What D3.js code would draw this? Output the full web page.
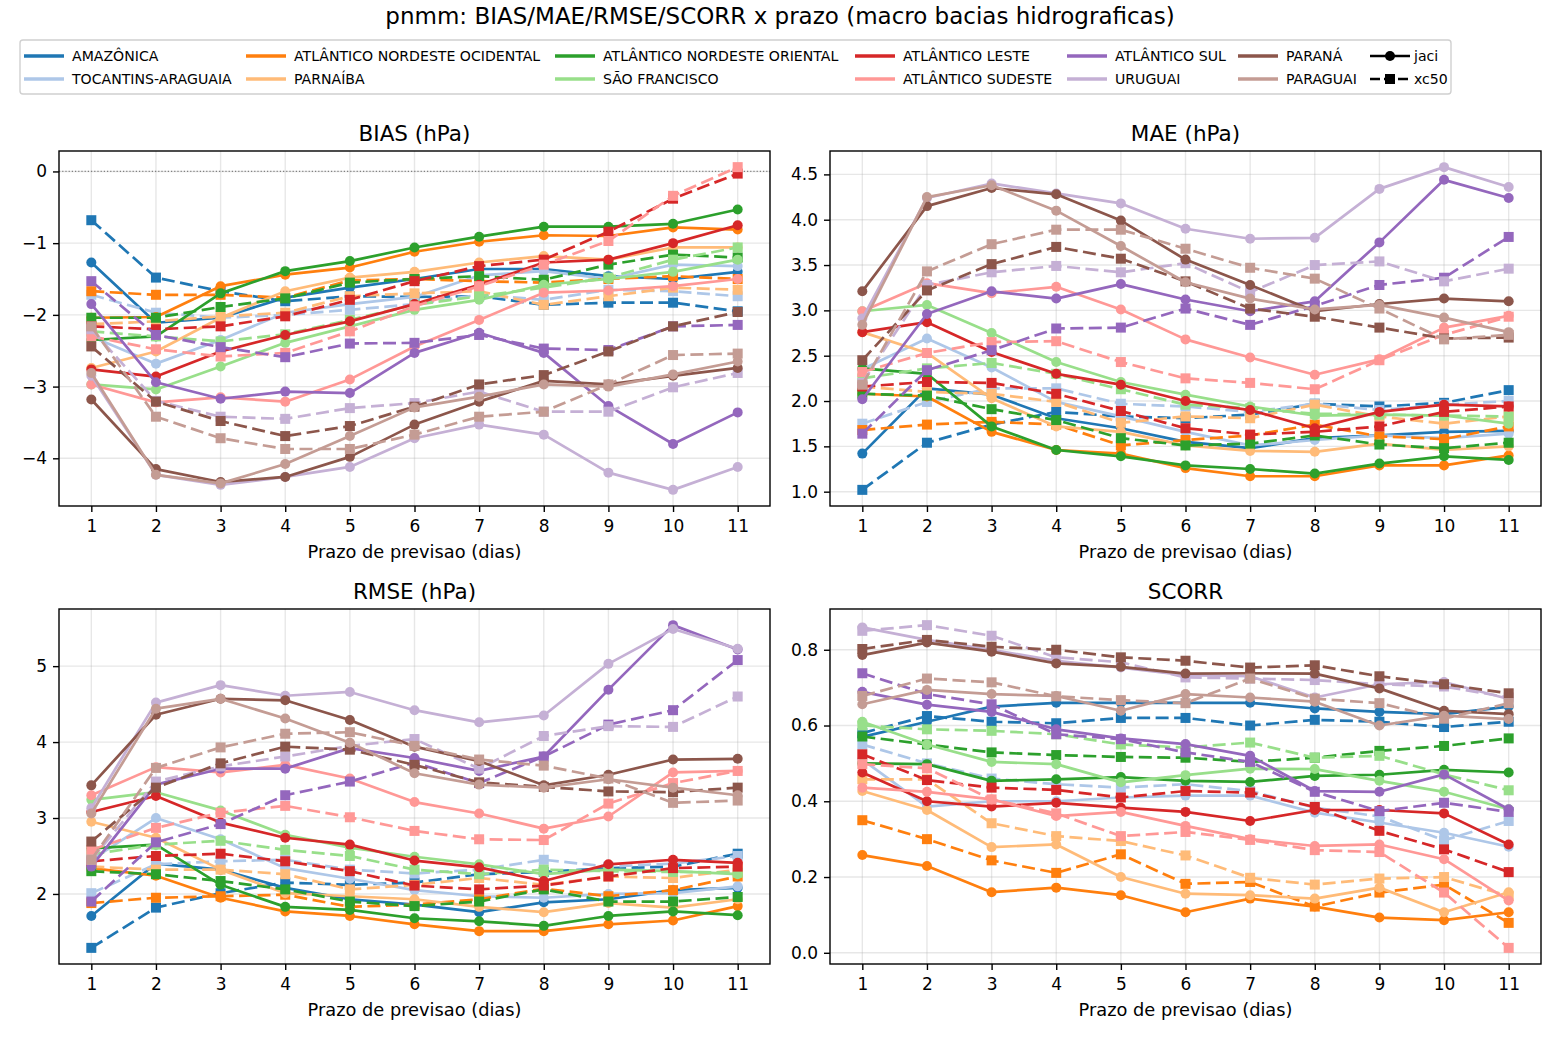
<!DOCTYPE html>
<html>
<head>
<meta charset="utf-8">
<script src="https://cdn.jsdelivr.net/npm/d3@7/dist/d3.min.js"></script>
<style>
  body { margin: 0; background: #fff; }
  svg { font-family: "DejaVu Sans", sans-serif; }
</style>
</head>
<body>
<svg id="chart" width="1560" height="1040"></svg>
<script>
// Basins, in legend (and plotting) order, with the tab20 colours
var basins = ['AMAZÔNICA', 'TOCANTINS-ARAGUAIA', 'ATLÂNTICO NORDESTE OCIDENTAL', 'PARNAÍBA',
    'ATLÂNTICO NORDESTE ORIENTAL', 'SÃO FRANCISCO', 'ATLÂNTICO LESTE', 'ATLÂNTICO SUDESTE',
    'ATLÂNTICO SUL', 'URUGUAI', 'PARANÁ', 'PARAGUAI'];
var colors = ['#1f77b4', '#aec7e8', '#ff7f0e', '#ffbb78', '#2ca02c', '#98df8a',
    '#d62728', '#ff9896', '#9467bd', '#c5b0d5', '#8c564b', '#c49c94'];
var days = [1, 2, 3, 4, 5, 6, 7, 8, 9, 10, 11];

// BIAS (hPa)
var biasJaci = [
    [-1.27, -2.11, -2.04, -1.76, -1.62, -1.5, -1.36, -1.36, -1.46, -1.5, -1.4],
    [-2.3, -2.68, -2.35, -1.97, -1.85, -1.75, -1.45, -1.39, -1.5, -1.3, -1.32],
    [-2.04, -2.03, -1.6, -1.44, -1.34, -1.12, -0.98, -0.89, -0.9, -0.78, -0.81],
    [-2.74, -2.51, -2.04, -1.67, -1.48, -1.4, -1.27, -1.18, -1.23, -1.06, -1.06],
    [-2.35, -2.3, -1.7, -1.39, -1.25, -1.06, -0.91, -0.77, -0.77, -0.73, -0.53],
    [-2.97, -3.04, -2.72, -2.39, -2.16, -1.93, -1.79, -1.58, -1.5, -1.4, -1.23],
    [-2.76, -2.86, -2.51, -2.28, -2.09, -1.85, -1.58, -1.27, -1.23, -1.0, -0.75],
    [-2.97, -3.22, -3.15, -3.21, -2.9, -2.44, -2.07, -1.69, -1.66, -1.6, -1.5],
    [-1.85, -2.94, -3.17, -3.07, -3.09, -2.53, -2.25, -2.53, -3.27, -3.8, -3.36],
    [-2.85, -4.23, -4.37, -4.26, -4.12, -3.72, -3.53, -3.67, -4.2, -4.44, -4.12],
    [-3.18, -4.15, -4.33, -4.26, -3.98, -3.53, -3.21, -2.92, -2.97, -2.85, -2.74],
    [-2.81, -4.23, -4.35, -4.08, -3.69, -3.29, -3.14, -2.97, -3.0, -2.83, -2.65]
];
var biasXc50 = [
    [-0.68, -1.48, -1.67, -1.81, -1.74, -1.75, -1.74, -1.86, -1.83, -1.83, -1.95],
    [-1.72, -1.97, -2.04, -2.0, -1.93, -1.85, -1.72, -1.79, -1.65, -1.67, -1.74],
    [-1.67, -1.72, -1.72, -1.76, -1.52, -1.5, -1.53, -1.55, -1.5, -1.46, -1.5],
    [-2.13, -2.09, -2.02, -1.97, -1.74, -1.7, -1.67, -1.86, -1.74, -1.62, -1.65],
    [-2.04, -2.04, -1.89, -1.77, -1.55, -1.5, -1.46, -1.51, -1.3, -1.16, -1.2],
    [-2.23, -2.3, -2.37, -2.27, -2.07, -1.86, -1.74, -1.62, -1.48, -1.23, -1.06],
    [-2.16, -2.2, -2.16, -2.02, -1.79, -1.53, -1.32, -1.23, -0.84, -0.38, -0.03],
    [-2.3, -2.48, -2.58, -2.53, -2.23, -1.88, -1.6, -1.3, -0.97, -0.34, 0.06],
    [-1.53, -2.28, -2.45, -2.59, -2.4, -2.39, -2.28, -2.47, -2.49, -2.16, -2.14],
    [-2.2, -3.2, -3.42, -3.45, -3.3, -3.23, -3.07, -3.35, -3.35, -3.01, -2.81],
    [-2.44, -3.21, -3.48, -3.69, -3.55, -3.28, -2.97, -2.84, -2.51, -2.16, -1.96],
    [-2.16, -3.42, -3.72, -3.87, -3.87, -3.67, -3.42, -3.35, -2.97, -2.56, -2.54]
];

// MAE (hPa)
var maeJaci = [
    [1.42, 2.14, 2.07, 1.81, 1.7, 1.55, 1.48, 1.59, 1.62, 1.66, 1.67],
    [2.35, 2.69, 2.37, 1.99, 1.83, 1.66, 1.51, 1.57, 1.62, 1.59, 1.64],
    [2.08, 2.05, 1.66, 1.46, 1.42, 1.26, 1.17, 1.17, 1.29, 1.29, 1.4],
    [2.76, 2.53, 2.03, 1.72, 1.66, 1.51, 1.45, 1.44, 1.53, 1.46, 1.5],
    [2.36, 2.3, 1.72, 1.46, 1.39, 1.29, 1.25, 1.2, 1.31, 1.39, 1.35],
    [2.99, 3.06, 2.75, 2.43, 2.21, 2.07, 1.94, 1.84, 1.85, 1.84, 1.75],
    [2.76, 2.87, 2.54, 2.3, 2.18, 2.0, 1.9, 1.7, 1.88, 1.96, 1.94],
    [2.99, 3.3, 3.19, 3.26, 3.01, 2.68, 2.48, 2.29, 2.46, 2.81, 2.94],
    [2.02, 2.96, 3.21, 3.13, 3.29, 3.12, 2.99, 3.1, 3.75, 4.44, 4.24],
    [2.91, 4.24, 4.4, 4.29, 4.18, 3.9, 3.79, 3.8, 4.34, 4.58, 4.36],
    [3.21, 4.15, 4.35, 4.28, 3.99, 3.56, 3.28, 2.99, 3.07, 3.13, 3.1],
    [2.84, 4.25, 4.38, 4.1, 3.71, 3.31, 3.13, 3.01, 3.06, 2.92, 2.76]
];
var maeXc50 = [
    [1.02, 1.54, 1.74, 1.88, 1.83, 1.81, 1.85, 1.97, 1.94, 1.98, 2.12],
    [1.75, 1.99, 2.14, 2.14, 1.97, 1.94, 1.88, 1.97, 1.9, 1.96, 2.0],
    [1.68, 1.74, 1.77, 1.74, 1.51, 1.57, 1.62, 1.74, 1.61, 1.58, 1.72],
    [2.16, 2.1, 2.08, 1.99, 1.76, 1.83, 1.81, 1.96, 1.83, 1.75, 1.83],
    [2.08, 2.06, 1.91, 1.79, 1.59, 1.51, 1.53, 1.62, 1.52, 1.48, 1.54],
    [2.25, 2.36, 2.42, 2.3, 2.13, 1.96, 1.92, 1.86, 1.85, 1.84, 1.83],
    [2.16, 2.21, 2.2, 2.08, 1.89, 1.7, 1.63, 1.66, 1.72, 1.88, 1.94],
    [2.32, 2.53, 2.65, 2.66, 2.43, 2.25, 2.2, 2.13, 2.45, 2.73, 2.93],
    [1.64, 2.34, 2.56, 2.8, 2.81, 3.02, 2.84, 3.05, 3.28, 3.36, 3.81],
    [2.2, 3.28, 3.42, 3.49, 3.42, 3.52, 3.2, 3.5, 3.54, 3.32, 3.46],
    [2.45, 3.22, 3.51, 3.7, 3.57, 3.32, 3.02, 2.93, 2.81, 2.69, 2.7],
    [2.18, 3.43, 3.73, 3.89, 3.89, 3.68, 3.47, 3.35, 3.02, 2.68, 2.73]
];

// RMSE (hPa)
var rmseJaci = [
    [1.71, 2.4, 2.32, 2.08, 1.93, 1.86, 1.76, 1.89, 1.93, 2.05, 2.08],
    [2.45, 3.0, 2.72, 2.34, 2.2, 2.05, 1.97, 1.95, 2.0, 2.01, 2.1],
    [2.34, 2.24, 1.95, 1.77, 1.71, 1.6, 1.51, 1.51, 1.6, 1.65, 1.84],
    [2.95, 2.74, 2.32, 2.01, 1.97, 1.93, 1.83, 1.76, 1.88, 1.82, 1.93],
    [2.6, 2.65, 2.12, 1.83, 1.79, 1.68, 1.64, 1.58, 1.71, 1.77, 1.72],
    [3.24, 3.34, 3.1, 2.78, 2.61, 2.49, 2.39, 2.26, 2.32, 2.3, 2.26],
    [3.08, 3.29, 2.94, 2.74, 2.65, 2.44, 2.35, 2.17, 2.39, 2.45, 2.41],
    [3.3, 3.67, 3.6, 3.7, 3.52, 3.21, 3.06, 2.86, 3.02, 3.6, 3.62],
    [2.36, 3.44, 3.65, 3.65, 3.92, 3.79, 3.62, 3.81, 4.69, 5.54, 5.22],
    [3.13, 4.52, 4.75, 4.61, 4.66, 4.42, 4.26, 4.35, 5.03, 5.49, 5.23],
    [3.43, 4.36, 4.57, 4.55, 4.29, 3.94, 3.75, 3.43, 3.57, 3.77, 3.78],
    [3.06, 4.44, 4.57, 4.31, 3.99, 3.59, 3.44, 3.4, 3.51, 3.4, 3.3]
];
var rmseXc50 = [
    [1.29, 1.82, 2.01, 2.15, 2.12, 2.15, 2.26, 2.29, 2.34, 2.36, 2.53],
    [2.01, 2.39, 2.43, 2.45, 2.32, 2.27, 2.32, 2.45, 2.36, 2.4, 2.5],
    [1.88, 1.95, 1.97, 1.99, 1.83, 1.86, 1.93, 2.07, 1.97, 2.05, 2.23],
    [2.36, 2.32, 2.32, 2.26, 2.06, 2.12, 2.21, 2.12, 2.23, 2.21, 2.32],
    [2.3, 2.26, 2.17, 2.06, 1.9, 1.84, 1.9, 2.06, 1.9, 1.9, 1.96],
    [2.52, 2.65, 2.7, 2.58, 2.5, 2.32, 2.26, 2.32, 2.3, 2.29, 2.28],
    [2.43, 2.5, 2.53, 2.43, 2.3, 2.11, 2.06, 2.11, 2.23, 2.34, 2.36],
    [2.58, 2.87, 3.07, 3.16, 3.01, 2.83, 2.72, 2.71, 3.19, 3.46, 3.62],
    [1.9, 2.68, 2.92, 3.3, 3.48, 3.73, 3.46, 3.81, 4.23, 4.42, 5.08],
    [2.45, 3.48, 3.68, 3.81, 3.95, 4.04, 3.65, 4.08, 4.21, 4.2, 4.6],
    [2.69, 3.4, 3.72, 3.94, 3.9, 3.7, 3.47, 3.41, 3.35, 3.34, 3.4],
    [2.45, 3.66, 3.93, 4.11, 4.13, 3.95, 3.77, 3.69, 3.52, 3.2, 3.23]
];

// SCORR
var scorrJaci = [
    [0.57, 0.61, 0.65, 0.66, 0.66, 0.66, 0.66, 0.645, 0.636, 0.63, 0.65],
    [0.51, 0.386, 0.4, 0.4, 0.41, 0.415, 0.415, 0.37, 0.344, 0.317, 0.28],
    [0.258, 0.229, 0.16, 0.172, 0.152, 0.107, 0.143, 0.122, 0.093, 0.086, 0.107],
    [0.427, 0.377, 0.279, 0.286, 0.2, 0.156, 0.152, 0.143, 0.172, 0.107, 0.16],
    [0.5, 0.498, 0.454, 0.458, 0.464, 0.454, 0.451, 0.467, 0.47, 0.483, 0.476],
    [0.61, 0.55, 0.504, 0.498, 0.45, 0.469, 0.486, 0.485, 0.454, 0.425, 0.379],
    [0.476, 0.4, 0.386, 0.396, 0.383, 0.372, 0.348, 0.377, 0.377, 0.368, 0.286],
    [0.436, 0.425, 0.405, 0.361, 0.372, 0.335, 0.3, 0.282, 0.286, 0.247, 0.138],
    [0.689, 0.655, 0.636, 0.59, 0.566, 0.551, 0.52, 0.427, 0.425, 0.471, 0.379],
    [0.859, 0.826, 0.8, 0.771, 0.753, 0.733, 0.73, 0.674, 0.709, 0.715, 0.67],
    [0.786, 0.819, 0.795, 0.764, 0.755, 0.737, 0.738, 0.737, 0.698, 0.639, 0.63],
    [0.656, 0.694, 0.683, 0.678, 0.639, 0.683, 0.674, 0.663, 0.6, 0.626, 0.617]
];
var scorrXc50 = [
    [0.58, 0.625, 0.61, 0.606, 0.62, 0.62, 0.6, 0.615, 0.61, 0.596, 0.61],
    [0.55, 0.5, 0.46, 0.445, 0.436, 0.445, 0.427, 0.383, 0.36, 0.297, 0.348],
    [0.35, 0.3, 0.244, 0.211, 0.26, 0.182, 0.187, 0.122, 0.159, 0.18, 0.079],
    [0.458, 0.458, 0.342, 0.308, 0.295, 0.257, 0.198, 0.18, 0.196, 0.2, 0.15],
    [0.571, 0.55, 0.529, 0.522, 0.517, 0.515, 0.504, 0.515, 0.533, 0.546, 0.566],
    [0.6, 0.59, 0.586, 0.577, 0.55, 0.542, 0.555, 0.515, 0.52, 0.471, 0.429],
    [0.524, 0.456, 0.436, 0.43, 0.41, 0.427, 0.423, 0.385, 0.322, 0.273, 0.213],
    [0.498, 0.487, 0.405, 0.368, 0.308, 0.319, 0.298, 0.271, 0.266, 0.159, 0.013],
    [0.738, 0.683, 0.656, 0.577, 0.564, 0.529, 0.504, 0.425, 0.374, 0.396, 0.372],
    [0.85, 0.865, 0.837, 0.78, 0.767, 0.727, 0.724, 0.72, 0.709, 0.703, 0.674],
    [0.802, 0.826, 0.808, 0.8, 0.78, 0.771, 0.753, 0.759, 0.73, 0.709, 0.685],
    [0.678, 0.724, 0.714, 0.677, 0.667, 0.659, 0.724, 0.671, 0.659, 0.618, 0.659]
];

var svg = d3.select('#chart');
var plotW = 711, plotH = 355;
var lw = 2.7, mr = 5;

// matplotlib-like minus sign
function minusFmt(f) {
    return function(d) { return f(d).replace('-', '\u2212'); };
}

var panels = [
    { title: 'BIAS (hPa)', jaci: biasJaci, xc50: biasXc50, x: 59, y: 151,
      ticks: [-4, -3, -2, -1, 0], fmt: minusFmt(d3.format('d')), zero: true },
    { title: 'MAE (hPa)', jaci: maeJaci, xc50: maeXc50, x: 830, y: 151,
      ticks: [1.0, 1.5, 2.0, 2.5, 3.0, 3.5, 4.0, 4.5], fmt: d3.format('.1f') },
    { title: 'RMSE (hPa)', jaci: rmseJaci, xc50: rmseXc50, x: 59, y: 609,
      ticks: [2, 3, 4, 5], fmt: d3.format('d') },
    { title: 'SCORR', jaci: scorrJaci, xc50: scorrXc50, x: 830, y: 609,
      ticks: [0, 0.2, 0.4, 0.6, 0.8], fmt: d3.format('.1f') }
];

svg.append('text')
    .attr('x', 780).attr('y', 16)
    .attr('text-anchor', 'middle').attr('dominant-baseline', 'central')
    .style('font-size', '23px')
    .text('pnmm: BIAS/MAE/RMSE/SCORR x prazo (macro bacias hidrograficas)');

panels.forEach(function(p) {
    var g = svg.append('g').attr('transform', 'translate(' + p.x + ',' + p.y + ')');

    var all = d3.merge(p.jaci.concat(p.xc50));
    var lo = d3.min(all), hi = d3.max(all), pad = (hi - lo) * 0.05;

    var x = d3.scaleLinear().domain([0.5, 11.5]).range([0, plotW]);
    var y = d3.scaleLinear().domain([lo - pad, hi + pad]).range([plotH, 0]);

    // grid
    g.append('g').selectAll('line').data(days).enter().append('line')
        .attr('x1', function(d) { return x(d); }).attr('x2', function(d) { return x(d); })
        .attr('y1', 0).attr('y2', plotH)
        .attr('stroke', '#b0b0b0').attr('stroke-opacity', 0.3).attr('stroke-width', 1.4);
    g.append('g').selectAll('line').data(p.ticks).enter().append('line')
        .attr('y1', function(d) { return y(d); }).attr('y2', function(d) { return y(d); })
        .attr('x1', 0).attr('x2', plotW)
        .attr('stroke', '#b0b0b0').attr('stroke-opacity', 0.3).attr('stroke-width', 1.4);

    if (p.zero) {
        g.append('line')
            .attr('x1', 0).attr('x2', plotW).attr('y1', y(0)).attr('y2', y(0))
            .attr('stroke', '#808080').attr('stroke-width', 1.2)
            .attr('stroke-dasharray', '1.2,2');
    }

    var line = d3.line()
        .x(function(d, i) { return x(days[i]); })
        .y(function(d) { return y(d); });

    basins.forEach(function(b, bi) {
        var c = colors[bi];
        g.append('path').datum(p.jaci[bi])
            .attr('d', line).attr('fill', 'none')
            .attr('stroke', c).attr('stroke-width', lw).attr('stroke-linejoin', 'round');
        g.append('g').selectAll('circle').data(p.jaci[bi]).enter().append('circle')
            .attr('cx', function(d, i) { return x(days[i]); })
            .attr('cy', function(d) { return y(d); })
            .attr('r', mr).attr('fill', c);

        g.append('path').datum(p.xc50[bi])
            .attr('d', line).attr('fill', 'none')
            .attr('stroke', c).attr('stroke-width', lw)
            .attr('stroke-dasharray', '13,5.5');
        g.append('g').selectAll('rect').data(p.xc50[bi]).enter().append('rect')
            .attr('x', function(d, i) { return x(days[i]) - mr; })
            .attr('y', function(d) { return y(d) - mr; })
            .attr('width', 2 * mr).attr('height', 2 * mr).attr('fill', c);
    });

    // axes
    var xAxis = d3.axisBottom(x).tickValues(days).tickSize(6).tickPadding(8);
    var yAxis = d3.axisLeft(y).tickValues(p.ticks).tickFormat(p.fmt).tickSize(6).tickPadding(6);
    var xg = g.append('g').attr('transform', 'translate(0,' + plotH + ')').call(xAxis);
    var yg = g.append('g').call(yAxis);
    [xg, yg].forEach(function(a) {
        a.select('.domain').remove();
        a.selectAll('line').attr('stroke', '#000').attr('stroke-width', 1.4);
        a.selectAll('text').style('font-size', '17px').attr('fill', '#000')
            .style('font-family', '"DejaVu Sans", sans-serif');
    });

    g.append('rect')
        .attr('width', plotW).attr('height', plotH)
        .attr('fill', 'none').attr('stroke', '#000').attr('stroke-width', 1.4);

    g.append('text')
        .attr('x', plotW / 2).attr('y', -18)
        .attr('text-anchor', 'middle').attr('dominant-baseline', 'central')
        .style('font-size', '21.5px').text(p.title);

    g.append('text')
        .attr('x', plotW / 2).attr('y', plotH + 45)
        .attr('text-anchor', 'middle').attr('dominant-baseline', 'central')
        .style('font-size', '17.8px').text('Prazo de previsao (dias)');
});

// legend
var leg = svg.append('g');
leg.append('rect')
    .attr('x', 20).attr('y', 40).attr('width', 1431).attr('height', 54)
    .attr('rx', 3).attr('fill', '#fff').attr('stroke', '#d0d0d0').attr('stroke-width', 1.4);

var colX = [24, 246, 555, 855, 1067, 1238, 1370];
var rowY = [56, 79];
basins.forEach(function(b, i) {
    var cx = colX[Math.floor(i / 2)], cy = rowY[i % 2];
    leg.append('line')
        .attr('x1', cx).attr('x2', cx + 40).attr('y1', cy).attr('y2', cy)
        .attr('stroke', colors[i]).attr('stroke-width', 3.6);
    leg.append('text')
        .attr('x', cx + 48).attr('y', cy)
        .attr('dominant-baseline', 'central')
        .style('font-size', '14.1px').text(b);
});

var styleKeys = ['jaci', 'xc50'];
styleKeys.forEach(function(k, i) {
    var cx = colX[6], cy = rowY[i];
    leg.append('line')
        .attr('x1', cx).attr('x2', cx + 40).attr('y1', cy).attr('y2', cy)
        .attr('stroke', '#000').attr('stroke-width', lw)
        .attr('stroke-dasharray', i === 1 ? '10,4' : null);
    if (i === 0) {
        leg.append('circle').attr('cx', cx + 20).attr('cy', cy).attr('r', mr).attr('fill', '#000');
    } else {
        leg.append('rect').attr('x', cx + 20 - mr).attr('y', cy - mr)
            .attr('width', 2 * mr).attr('height', 2 * mr).attr('fill', '#000');
    }
    leg.append('text')
        .attr('x', cx + 44).attr('y', cy)
        .attr('dominant-baseline', 'central')
        .style('font-size', '14.1px').text(k);
});
</script>
</body>
</html>
